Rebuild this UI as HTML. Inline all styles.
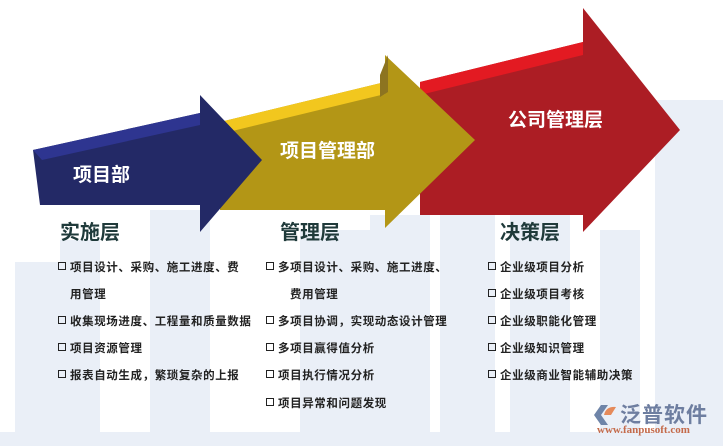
<!DOCTYPE html>
<html><head><meta charset="utf-8"><style>
body{margin:0;width:723px;height:446px;background:#fff;position:relative;overflow:hidden;font-family:"Liberation Sans","Noto Sans CJK SC",sans-serif}
.t{position:absolute;white-space:nowrap}
.h{font-size:20px;color:#1f3a3a;font-weight:bold}
.li{font-size:11.5px;color:#222;letter-spacing:0.6px;font-weight:bold}
.b:before{content:"";display:inline-block;width:6px;height:6px;border:1px solid #222;margin-right:4px;vertical-align:1px}
.w{color:#fff;font-weight:bold}
</style></head><body>
<svg width="723" height="446" style="position:absolute;left:0;top:0">
<g fill="#eaeff7">
<rect x="15" y="262" width="45" height="184"/><rect x="60" y="240" width="40" height="206"/>
<rect x="150" y="210" width="60" height="236"/>
<rect x="300" y="230" width="70" height="216"/><rect x="370" y="215" width="60" height="231"/>
<rect x="440" y="195" width="55" height="251"/><rect x="510" y="200" width="60" height="246"/>
<rect x="600" y="230" width="40" height="216"/><rect x="655" y="100" width="68" height="346"/>
<rect x="0" y="432" width="723" height="14"/>
</g>
<polygon points="420,82 583,42 583,8 680,130 583,232 583,215 420,215" fill="#ac1d24"/>
<polygon points="420,82 583,42 583,55 420,95" fill="#e31a22"/>
<polygon points="220,122 385,82 385,55 475,140 385,228 385,210 220,210" fill="#b39616"/>
<polygon points="220,122 385,82 385,94 220,134" fill="#f2c71e"/>
<polygon points="380,75 388,55 388,92 380,97" fill="#8d7420"/>
<polygon points="33,150 200,113 200,95 262,160 200,232 200,205 40,205" fill="#232966"/>
<polygon points="33,150 200,113 200,125 42,160" fill="#2e3590"/>
</svg>
<div class="t w" style="left:73px;top:160px;font-size:19px">项目部</div>
<div class="t w" style="left:280px;top:136px;font-size:19px">项目管理部</div>
<div class="t w" style="left:508px;top:105px;font-size:19px">公司管理层</div>
<div class="t h" style="left:60px;top:216px">实施层</div>
<div class="t h" style="left:280px;top:216px">管理层</div>
<div class="t h" style="left:500px;top:216px">决策层</div>

<div class="t li b" style="left:58px;top:259px">项目设计、采购、施工进度、费</div>
<div class="t li" style="left:70px;top:286px">用管理</div>
<div class="t li b" style="left:58px;top:313px">收集现场进度、工程量和质量数据</div>
<div class="t li b" style="left:58px;top:340px">项目资源管理</div>
<div class="t li b" style="left:58px;top:367px">报表自动生成，繁琐复杂的上报</div>

<div class="t li b" style="left:266px;top:259px">多项目设计、采购、施工进度、</div>
<div class="t li" style="left:290px;top:286px">费用管理</div>
<div class="t li b" style="left:266px;top:313px">多项目协调，实现动态设计管理</div>
<div class="t li b" style="left:266px;top:340px">多项目赢得值分析</div>
<div class="t li b" style="left:266px;top:367px">项目执行情况分析</div>
<div class="t li b" style="left:266px;top:395px">项目异常和问题发现</div>

<div class="t li b" style="left:488px;top:259px">企业级项目分析</div>
<div class="t li b" style="left:488px;top:286px">企业级项目考核</div>
<div class="t li b" style="left:488px;top:313px">企业级职能化管理</div>
<div class="t li b" style="left:488px;top:340px">企业级知识管理</div>
<div class="t li b" style="left:488px;top:367px">企业级商业智能辅助决策</div>

<svg width="30" height="26" style="position:absolute;left:592px;top:402px">
<polygon points="2,13 9,3 16,3 9,13 16,23 9,23" fill="#6e84a8"/>
<path d="M12,13 Q14,4 24,5 L19,13 Z" fill="#e58a5a"/>
</svg>
<div class="t" style="left:620px;top:399px;font-size:21px;color:#6e7ea0;font-weight:bold;letter-spacing:1px">泛普软件</div>
<div class="t" style="left:597px;top:424px;font-size:11px;color:#c46a4a;font-family:'Liberation Serif',serif;font-weight:bold">www.fanpusoft.com</div>
</body></html>
